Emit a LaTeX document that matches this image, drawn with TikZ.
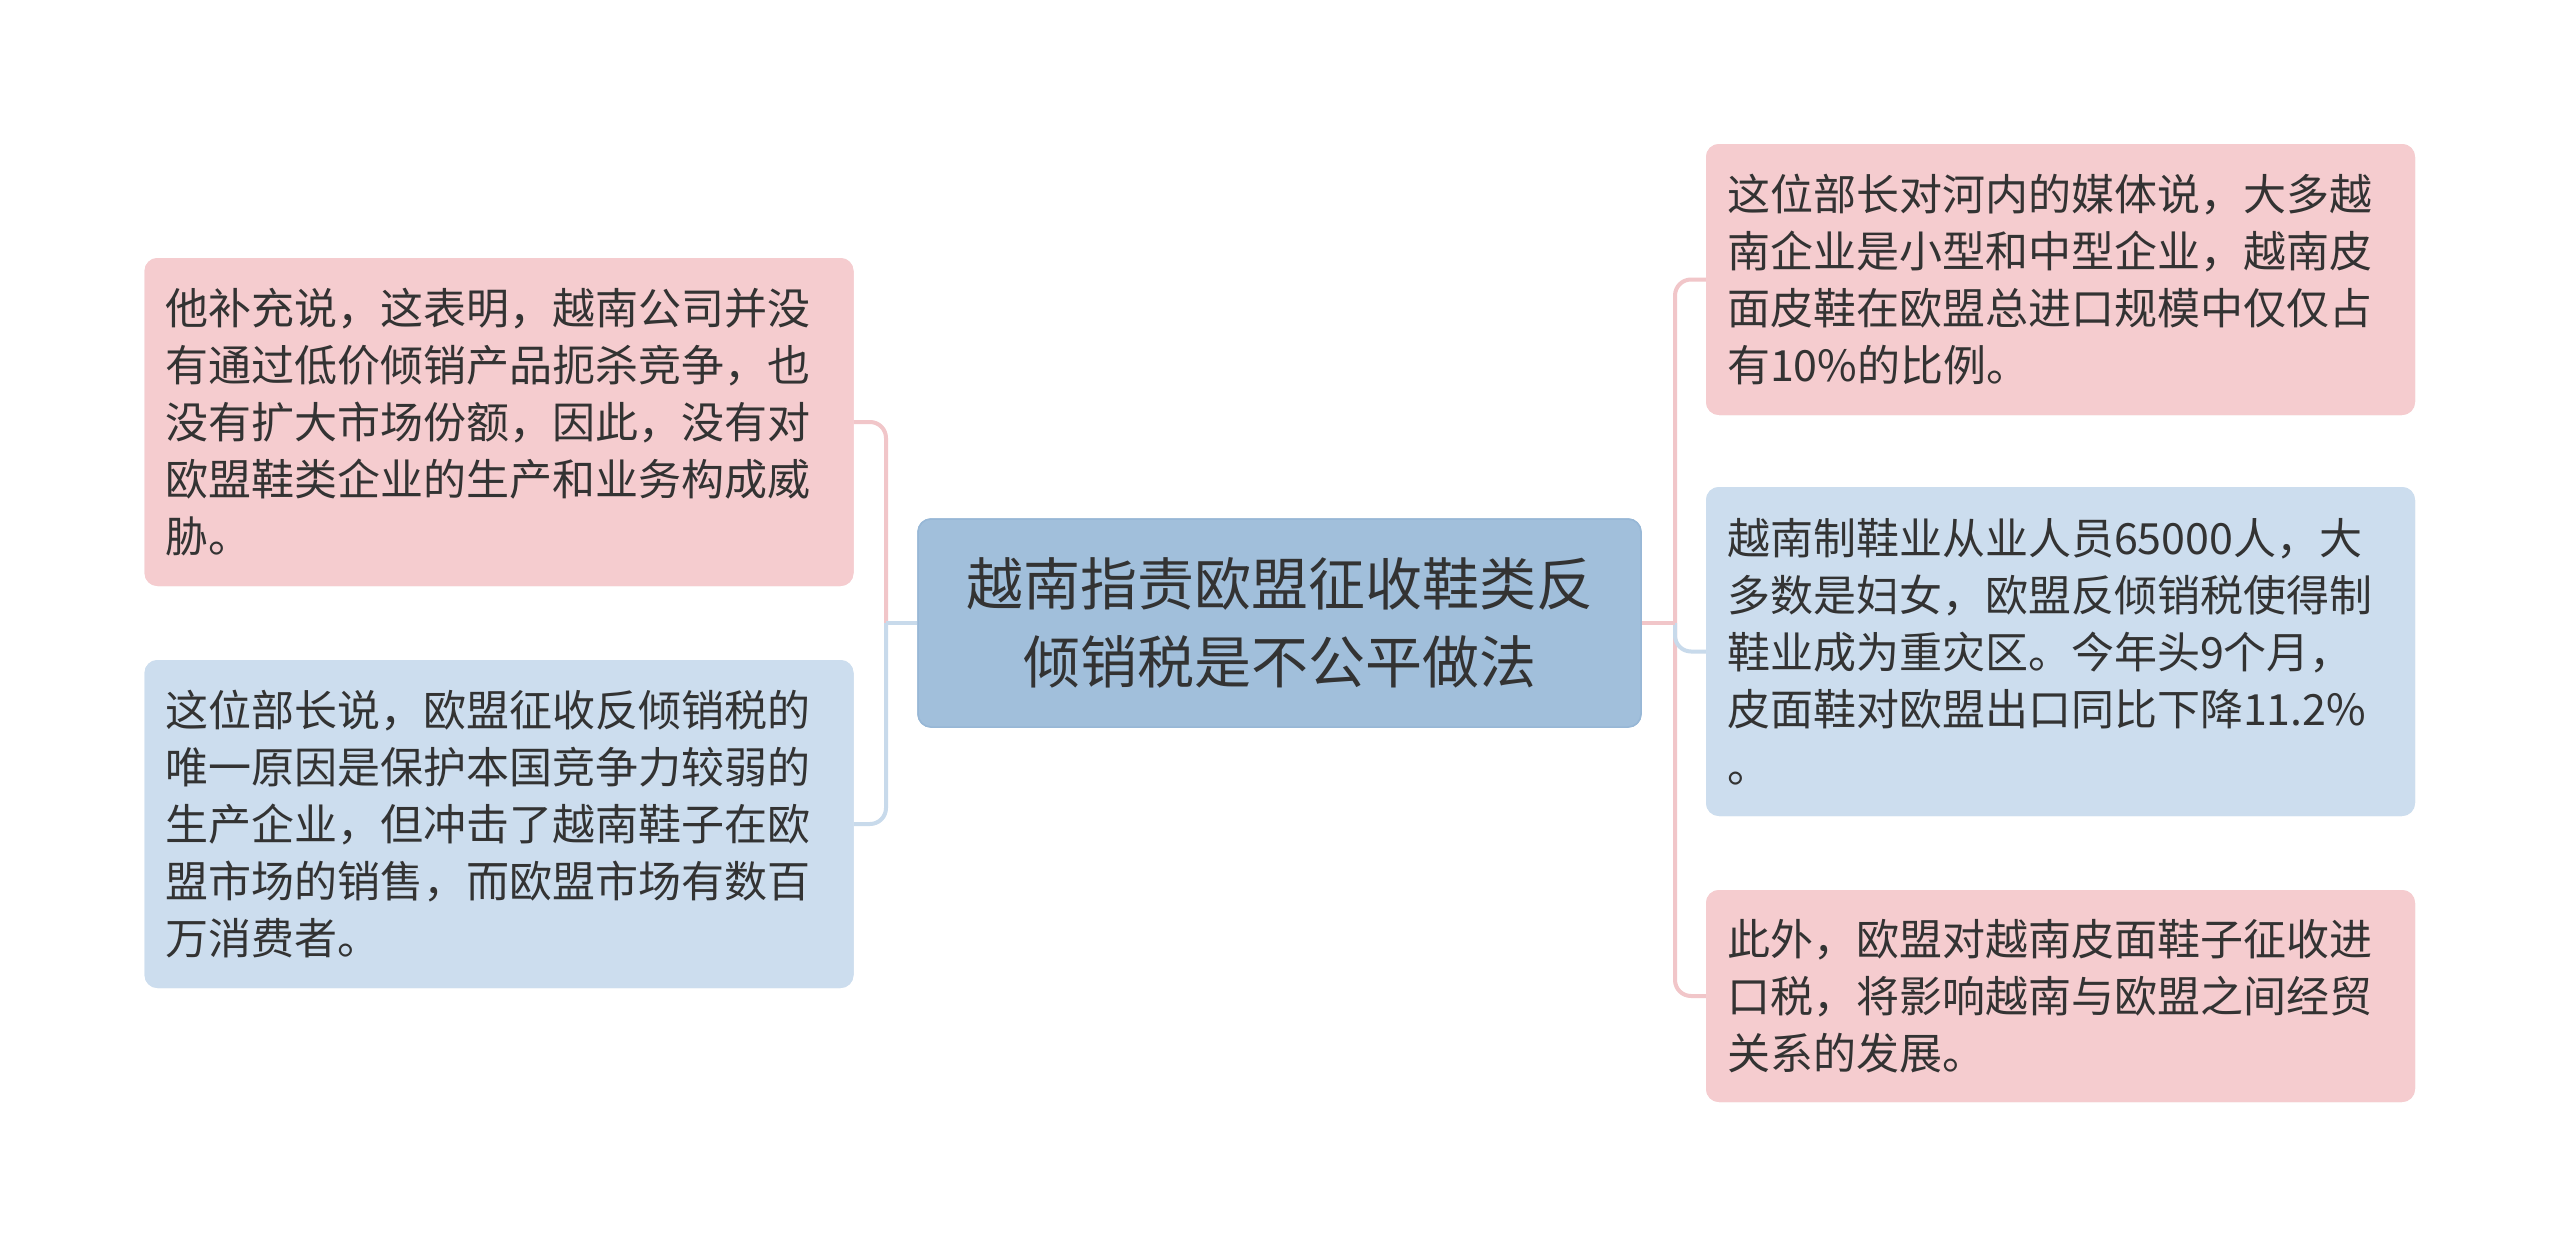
\documentclass[tikz,border=0pt]{standalone}
\usepackage{fontspec}
\setmainfont{Noto Sans CJK SC}
\definecolor{pinkfill}{HTML}{F5CCCF}
\definecolor{bluefill}{HTML}{CCDDEE}
\definecolor{centfill}{HTML}{A1BFDB}
\definecolor{centedge}{HTML}{97B7D6}
\definecolor{pinkline}{HTML}{F1C6C9}
\definecolor{blueline}{HTML}{C8DAEB}
\definecolor{txt}{HTML}{333333}
\tikzset{
  child/.style={rounded corners=13pt, inner xsep=21pt, inner ysep=0pt,
    text width=667pt, minimum width=709pt, align=left, text=txt,
    font=\fontsize{43}{57}\selectfont},
  pinkbox/.style={child, fill=pinkfill},
  bluebox/.style={child, fill=bluefill},
  centbox/.style={rounded corners=13pt, fill=centfill, draw=centedge, line width=1.5pt,
    minimum width=723pt, minimum height=208pt, inner sep=0pt, align=center, text=txt,
    font=\fontsize{57}{78}\selectfont},
  pconn/.style={draw=pinkline, line width=4pt},
  bconn/.style={draw=blueline, line width=4pt},
  roundbend/.style={rounded corners=16pt}
}
\begin{document}
\begin{tikzpicture}[x=1pt,y=-1pt]
\useasboundingbox (0,0) rectangle (2560,1247);
\fill[white] (0,0) rectangle (2560,1247);

\coordinate (lx) at (886,0);
\coordinate (rx) at (1675,0);

\path (1279.5,623) node[centbox] (c) {越南指责欧盟征收鞋类反\\倾销税是不公平做法};
\path (499,422) node[pinkbox, minimum height=328pt] (lt) {};
\path (499,824) node[bluebox, minimum height=328pt] (lb) {};
\path (2060.5,279.5) node[pinkbox, minimum height=271pt] (rt) {};
\path (2060.5,651.5) node[bluebox, minimum height=329pt] (rm) {};
\path (2060.5,996) node[pinkbox, minimum height=212pt] (rb) {};

% connectors
\draw[pconn, roundbend] (c.west -| lx) |- (lt.east);
\draw[bconn, roundbend] (c.west -| lx) |- (lb.east);
\draw[bconn] (c.west) -- (c.west -| lx);
\draw[pconn, roundbend] (c.east -| rx) |- (rt.west);
\draw[pconn, roundbend] (c.east -| rx) |- (rb.west);
\draw[bconn, roundbend] (c.east -| rx) |- (rm.west);
\draw[pconn] (c.east) -- (c.east -| rx);

% nodes on top of connectors
\path (1279.5,623) node[centbox] {越南指责欧盟征收鞋类反\\倾销税是不公平做法};
\path (499,422) node[pinkbox, minimum height=328pt] {他补充说，这表明，越南公司并没\\有通过低价倾销产品扼杀竞争，也\\没有扩大市场份额，因此，没有对\\欧盟鞋类企业的生产和业务构成威\\胁。};
\path (499,824) node[bluebox, minimum height=328pt] {这位部长说，欧盟征收反倾销税的\\唯一原因是保护本国竞争力较弱的\\生产企业，但冲击了越南鞋子在欧\\盟市场的销售，而欧盟市场有数百\\万消费者。};
\path (2060.5,279.5) node[pinkbox, minimum height=271pt] {这位部长对河内的媒体说，大多越\\南企业是小型和中型企业，越南皮\\面皮鞋在欧盟总进口规模中仅仅占\\有10\%的比例。};
\path (2060.5,651.5) node[bluebox, minimum height=329pt] {越南制鞋业从业人员65000人，大\\多数是妇女，欧盟反倾销税使得制\\鞋业成为重灾区。今年头9个月，\\皮面鞋对欧盟出口同比下降11.2\%\\。};
\path (2060.5,996) node[pinkbox, minimum height=212pt] {此外，欧盟对越南皮面鞋子征收进\\口税，将影响越南与欧盟之间经贸\\关系的发展。};
\end{tikzpicture}
\end{document}
